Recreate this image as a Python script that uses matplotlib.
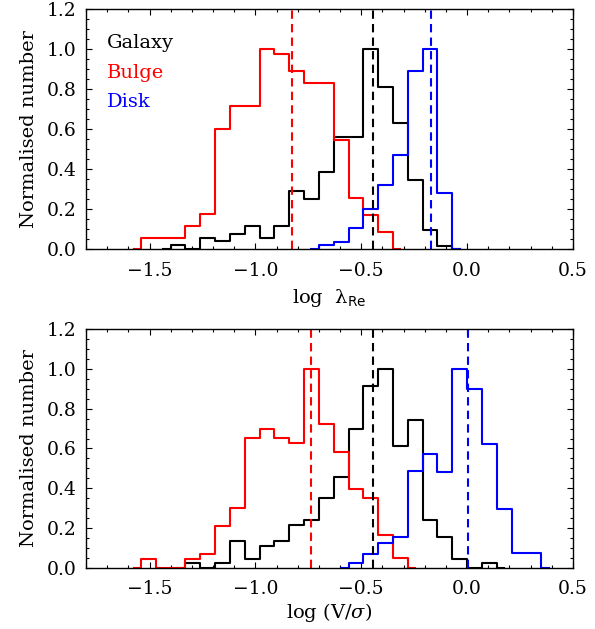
import numpy as np
import matplotlib
matplotlib.use("Agg")
import matplotlib.pyplot as plt
from matplotlib.ticker import MultipleLocator

# Ширина біну гістограм (в одиницях log)
bin_width = 0.07

# Верхня панель: log lambda_Re (ліва межа першого біну + значення)
top_galaxy_start = -1.47
top_galaxy = [0, 0.02, 0, 0.057, 0.038, 0.077, 0.114, 0.055, 0.114, 0.289, 0.251,
              0.385, 0.56, 0.56, 1.0, 0.808, 0.632, 0.346, 0.095, 0.017, 0]
top_bulge_start = -1.61
top_bulge = [0, 0.055, 0.055, 0.055, 0.114, 0.174, 0.602, 0.716, 0.716, 1.0, 0.975,
             0.89, 0.831, 0.831, 0.543, 0.256, 0.171, 0.084, 0]
top_disk_start = -0.77
top_disk = [0, 0.02, 0.037, 0.104, 0.2, 0.318, 0.472, 0.89, 1.0, 0.281, 0]
top_medians = {"black": -0.445, "red": -0.828, "blue": -0.172}

# Нижня панель: log (V/sigma)
bot_galaxy_start = -1.40
bot_galaxy = [0, 0.023, 0, 0.023, 0.133, 0.047, 0.11, 0.133, 0.217, 0.242, 0.35,
              0.458, 0.697, 0.913, 1.0, 0.612, 0.742, 0.242, 0.155, 0.047, 0, 0.023, 0]
bot_bulge_start = -1.61
bot_bulge = [0, 0.047, 0, 0, 0.047, 0.072, 0.212, 0.303, 0.653, 0.70, 0.653, 0.628,
             1.0, 0.722, 0.583, 0.397, 0.35, 0.167, 0.05, 0]
bot_disk_start = -0.63
bot_disk = [0, 0.023, 0.072, 0.125, 0.155, 0.487, 0.57, 0.483, 1.0, 0.897, 0.622,
            0.295, 0.075, 0.075, 0]
bot_medians = {"black": -0.445, "red": -0.738, "blue": 0.005}

plt.rcParams["font.family"] = ["DejaVu Serif"]
plt.rcParams["mathtext.fontset"] = "dejavuserif"

fig = plt.figure(figsize=(5.95, 6.29), dpi=100)
ax1 = fig.add_axes([0.1445, 0.604, 0.8185, 0.3816])
ax2 = fig.add_axes([0.1445, 0.097, 0.8185, 0.380])


def draw_hist(ax, start, values, color):
    centers = start + bin_width * (np.arange(len(values)) + 0.5)
    ax.plot(centers, values, drawstyle="steps-mid", color=color, lw=1.5)


def style_axes(ax, xlabel, xpad):
    ax.set_xlim(-1.8, 0.5)
    ax.set_ylim(0, 1.2)
    ax.xaxis.set_major_locator(MultipleLocator(0.5))
    ax.xaxis.set_minor_locator(MultipleLocator(0.1))
    ax.yaxis.set_major_locator(MultipleLocator(0.2))
    ax.yaxis.set_minor_locator(MultipleLocator(0.05))
    ax.xaxis.set_major_formatter(plt.FuncFormatter(lambda v, p: f"{v:.1f}".replace("-", "\u2212")))
    ax.yaxis.set_major_formatter(plt.FuncFormatter(lambda v, p: f"{v:.1f}"))
    ax.tick_params(which="both", direction="in", top=True, right=True, width=0.8)
    ax.tick_params(which="major", length=4.5, labelsize=13.5)
    ax.tick_params(axis="x", which="major", pad=9)
    ax.tick_params(axis="y", which="major", pad=7)
    ax.tick_params(which="minor", length=2.5)
    for s in ax.spines.values():
        s.set_linewidth(1.0)
    ax.set_ylabel("Normalised number", fontsize=14, labelpad=6)
    ax.set_xlabel(xlabel, fontsize=14, labelpad=xpad)


def draw_medians(ax, medians):
    for color, xm in medians.items():
        ln = ax.axvline(xm, color=color, lw=1.5)
        ln.set_dashes([4, 2.5])


draw_hist(ax1, top_galaxy_start, top_galaxy, "black")
draw_hist(ax1, top_bulge_start, top_bulge, "red")
draw_hist(ax1, top_disk_start, top_disk, "blue")
draw_medians(ax1, top_medians)
style_axes(ax1, "log  \u03bb$_{\\mathsf{Re}}$", 5)

ax1.text(0.043, 0.858, "Galaxy", color="black", fontsize=14, transform=ax1.transAxes, va="center")
ax1.text(0.043, 0.733, "Bulge", color="red", fontsize=14, transform=ax1.transAxes, va="center")
ax1.text(0.043, 0.6125, "Disk", color="blue", fontsize=14, transform=ax1.transAxes, va="center")

draw_hist(ax2, bot_galaxy_start, bot_galaxy, "black")
draw_hist(ax2, bot_bulge_start, bot_bulge, "red")
draw_hist(ax2, bot_disk_start, bot_disk, "blue")
draw_medians(ax2, bot_medians)
style_axes(ax2, r"log (V/$\sigma$)", 2)

fig.savefig("out.png", dpi=100)
